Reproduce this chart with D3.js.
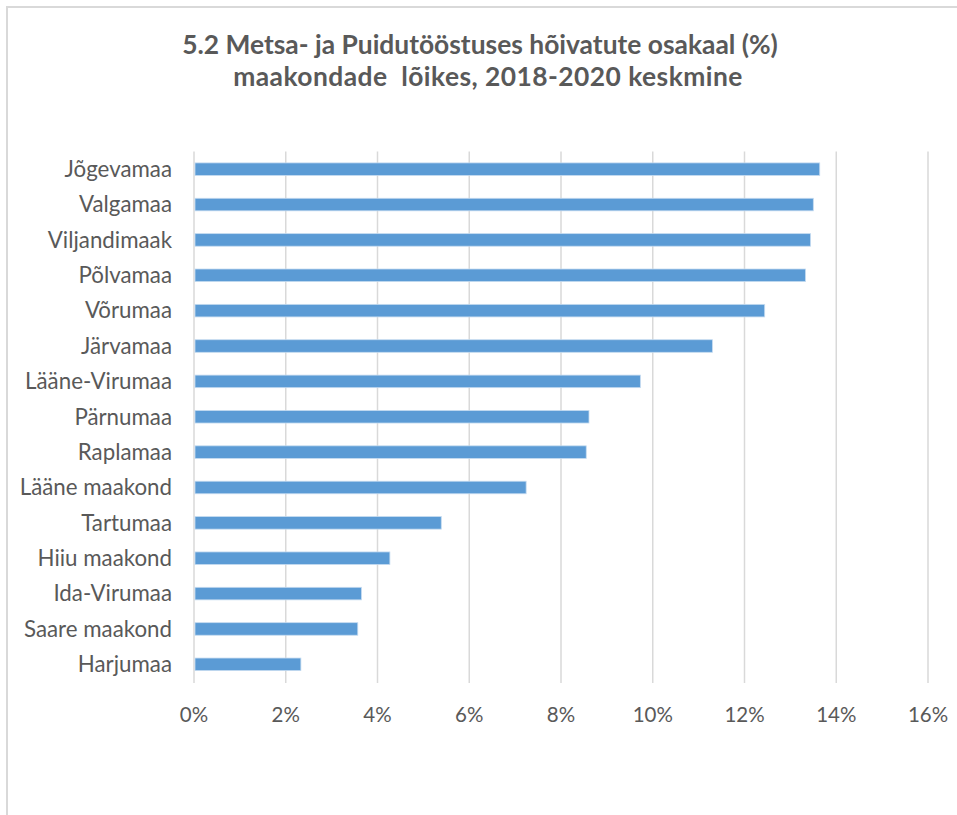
<!DOCTYPE html>
<html><head><meta charset="utf-8">
<script src="https://cdn.jsdelivr.net/npm/d3@7"></script>
<style>
html,body{margin:0;padding:0;background:#fff;}
svg{display:block;}
text{font-family:Lato,"Open Sans",sans-serif;}
</style></head>
<body><svg id="chart" width="957" height="815"></svg>
<script>
const categories = ["Jõgevamaa","Valgamaa","Viljandimaak","Põlvamaa","Võrumaa","Järvamaa","Lääne-Virumaa","Pärnumaa","Raplamaa","Lääne maakond","Tartumaa","Hiiu maakond","Ida-Virumaa","Saare maakond","Harjumaa"];
const values = [13.64,13.50,13.44,13.33,12.44,11.30,9.73,8.61,8.55,7.24,5.39,4.27,3.65,3.57,2.33];
const tickValues = [0,2,4,6,8,10,12,14,16];
const titleLines = ["5.2 Metsa- ja Puidutööstuses hõivatute osakaal (%)","maakondade  lõikes, 2018-2020 keskmine"];

const svg = d3.select("#chart");
svg.append("rect").attr("x",7).attr("y",7).attr("width",980).attr("height",840)
  .attr("fill","#fff").attr("stroke","#d9d9d9").attr("stroke-width",2);

const x = d3.scaleLinear().domain([0,16]).range([194,928]);
const y = d3.scaleBand().domain(categories).range([151.5,682]).paddingInner(0.645).paddingOuter(0.3225);

svg.append("g").selectAll("line").data(tickValues).join("line")
  .attr("x1",d=>x(d)).attr("x2",d=>x(d)).attr("y1",151.5).attr("y2",683)
  .attr("stroke","#d9d9d9").attr("stroke-width",1.5);

svg.append("g").selectAll("rect").data(values).join("rect")
  .attr("x",x(0)+1).attr("y",(d,i)=>y(categories[i]))
  .attr("width",d=>x(d)-x(0)-1).attr("height",y.bandwidth())
  .attr("fill","#5b9bd5").attr("stroke","#c5dbf0").attr("stroke-width",0.8);

svg.append("g").selectAll("text").data(categories).join("text")
  .attr("x",172).attr("y",d=>y(d)+y.bandwidth()/2).attr("dy","0.35em")
  .attr("text-anchor","end").attr("font-size",22.3).attr("fill","#595959").text(d=>d);

svg.append("g").selectAll("text").data(tickValues).join("text")
  .attr("x",d=>x(d)).attr("y",722).attr("text-anchor","middle")
  .attr("font-size",20.5).attr("fill","#595959").text(d=>d+"%");

svg.append("g").selectAll("text").data(titleLines).join("text")
  .attr("x",(d,i)=>i===0?480:488).attr("y",(d,i)=>54+i*32).attr("text-anchor","middle")
  .attr("font-size",26.4).attr("font-weight","bold").attr("fill","#595959")
  .attr("letter-spacing",(d,i)=>i===0?0:0.45)
  .style("white-space","pre").text(d=>d);
</script></body></html>
